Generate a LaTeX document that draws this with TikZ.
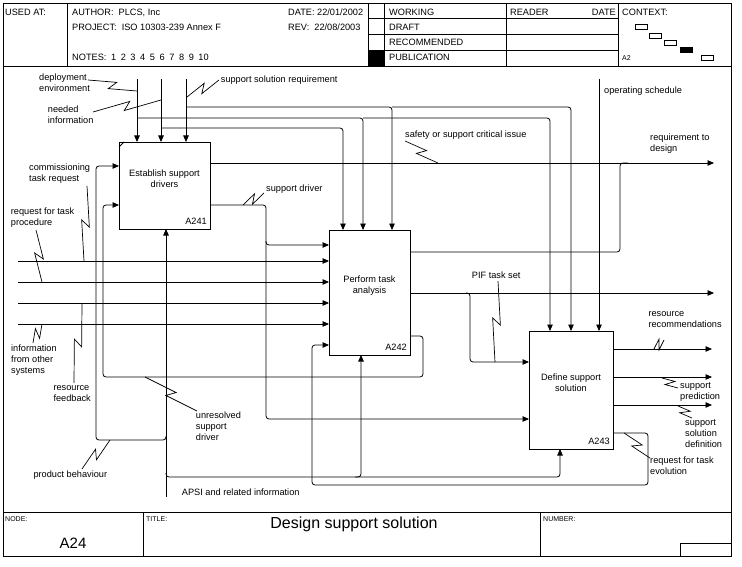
\documentclass[tikz,border=0pt]{standalone}
\usepackage{fontspec}
\setmainfont{Liberation Sans}
\usepackage{tikz}
\usetikzlibrary{arrows.meta,calc,positioning}
\newcommand{\lblfont}{\fontsize{9.2}{11}\selectfont}
\newcommand{\tinyfont}{\fontsize{7}{8}\selectfont}
\tikzset{
    thin_line/.style={line width=0.8pt},
    func_box/.style={draw, line width=0.8pt, inner sep=0pt, outer sep=0pt},
    box_text/.style={font=\lblfont, align=center, inner sep=0pt},
    box_num/.style={font=\lblfont, anchor=base east, inner sep=0pt},
    head_text/.style={font=\lblfont, anchor=base west, inner sep=0pt},
    arrow_label/.style={font=\lblfont, align=left, anchor=north west, inner sep=0pt, yshift=7.7pt, execute at begin node=\strut},
    flow/.style={line width=0.8pt, rounded corners=3pt, -{Triangle[length=6.5pt,width=5.5pt]}},
    plain_flow/.style={line width=0.8pt, rounded corners=3pt},
    leader/.style={line width=0.7pt}
}
\newcommand{\squig}[2]{%
  \path #1 -- #2 coordinate[pos=.5] (sqm);
  \draw[leader] #1 -- ($(sqm)!3.5pt!#2!4pt!90:#2$) -- ($(sqm)!-3.5pt!#2!4pt!-90:#2$) -- #2;}

\begin{document}
\begin{tikzpicture}[x=1pt, y=-1pt]
  \useasboundingbox (0,0) rectangle (742,567);

  % Form frame, header and footer
  \draw[thin_line] (3,3) rectangle (731,556);
  \draw[thin_line] (3,66) -- (731,66);
  \draw[thin_line] (3,512) -- (731,512);
  \foreach \x in {67,368,384,506,618}
    \draw[thin_line] (\x,3) -- (\x,66);
  \foreach \y in {18,34,50}
    \draw[thin_line] (368,\y) -- (618,\y);
  \fill (368,50) rectangle (384,66);
  \draw[thin_line] (143,512) -- (143,556);
  \draw[thin_line] (540,512) -- (540,556);
  \draw[thin_line] (680,556) |- (731,543);

  \node[head_text] (used_at) at (5,16) {USED AT:};
  \node[head_text] (author) at (72,16) {AUTHOR:\ \ PLCS, Inc};
  \node[head_text] (project) at (72,31) {PROJECT:\ \ ISO 10303-239 Annex F};
  \node[head_text] (notes) at (72,61) {NOTES:\enspace 1\enspace 2\enspace 3\enspace 4\enspace 5\enspace 6\enspace 7\enspace 8\enspace 9\enspace 10};
  \node[head_text] (date) at (288,16) {DATE: 22/01/2002};
  \node[head_text] (rev) at (288,31) {REV:\ \ 22/08/2003};
  \node[head_text] (st_working) at (389,16) {WORKING};
  \node[head_text] (st_draft) at (389,31) {DRAFT};
  \node[head_text] (st_recommended) at (389,46) {RECOMMENDED};
  \node[head_text] (st_publication) at (389,61) {PUBLICATION};
  \node[head_text] (reader) at (510,16) {READER};
  \node[head_text, anchor=base east] (reader_date) at (616,16) {DATE};
  \node[head_text] (context) at (622,16) {CONTEXT:};
  \node[head_text, font=\tinyfont] (context_node) at (622,61) {A2};
  \foreach \cx/\cy in {635/24, 649/33, 664/40.5, 701/55}
    \draw[line width=0.6pt] (\cx,\cy) rectangle ++(12.5,5);
  \fill (679.5,47.5) rectangle ++(13,5.5);

  \node[head_text, font=\tinyfont] (f_node) at (5,521) {NODE:};
  \node[head_text, font=\tinyfont] (f_title) at (146,521) {TITLE:};
  \node[head_text, font=\tinyfont] (f_number) at (543,521) {NUMBER:};
  \node[font=\fontsize{16}{18}\selectfont, anchor=base, inner sep=0pt] (f_titletext) at (354,528) {Design support solution};
  \node[font=\fontsize{15}{18}\selectfont, anchor=base, inner sep=0pt] (f_nodetext) at (73,548) {A24};

  % Activity boxes
  \node[func_box, minimum width=91pt, minimum height=87pt] (a241) at (164.5,185.5) {};
  \node[func_box, minimum width=81pt, minimum height=125pt] (a242) at (369.5,292.5) {};
  \node[func_box, minimum width=84pt, minimum height=118pt] (a243) at (571,390) {};
  \node[box_text] (t241) at ([yshift=7pt]a241.center) {Establish support\\drivers};
  \node[box_text] (t242) at ([yshift=7pt]a242.center) {Perform task\\analysis};
  \node[box_text] (t243) at ([yshift=7pt]a243.center) {Define support\\solution};
  \node[box_num] (n241) at ([xshift=-3pt,yshift=4.7pt]a241.south east) {A241};
  \node[box_num] (n242) at ([xshift=-3pt,yshift=4.7pt]a242.south east) {A242};
  \node[box_num] (n243) at ([xshift=-3pt,yshift=4.7pt]a243.south east) {A243};
  \draw[thin_line] ([yshift=-5pt]a241.north west) -- ([xshift=5pt]a241.north west);

  % Controls from the top edge
  \coordinate (c_deploy) at (137,79);
  \coordinate (c_needed) at (161,79);
  \coordinate (c_ssreq) at (186,79);
  \coordinate (c_opsched) at (599,79);
  \draw[flow] (c_deploy) -- (c_deploy |- a241.north);
  \draw[flow] (c_needed) -- (c_needed |- a241.north);
  \draw[flow] (c_ssreq) -- (c_ssreq |- a241.north);
  \draw[flow] (c_opsched) -- (c_opsched |- a243.north);
  \draw[flow] (c_deploy |- 0,118) -| (363,0 |- a242.north);
  \draw[flow] (363,118) -| (550,0 |- a243.north);
  \draw[flow] (c_needed |- 0,128) -| (343,0 |- a242.north);
  \draw[flow] (c_ssreq |- 0,107) -| (392,0 |- a242.north);
  \draw[flow] (392,107) -| (571,0 |- a243.north);

  % Inputs from the left edge
  \foreach \y/\name in {261/i_one, 282/i_two, 303/i_three, 324/i_four} {
    \coordinate (\name) at (18,\y);
    \draw[flow] (\name) -- (a242.west |- \name);
  }

  % Outputs of A241
  \coordinate (o_reqdesign) at (714,163);
  \draw[flow] (a241.east |- 0,163) -- (o_reqdesign);
  \draw[flow] (a241.east |- 0,205) -| (266,419) -- (a243.west |- 0,419);
  \draw[flow] (266,241) |- (a242.west |- 0,245);

  % Outputs of A242
  \draw[plain_flow] (a242.east |- 0,252) -| (620,163) -- (628,163);
  \coordinate (o_pif) at (714,293);
  \draw[flow] (a242.east |- o_pif) -- (o_pif);
  \draw[flow] (466,293) -| (470,362) -- (a243.west |- 0,362);
  \draw[flow] (a242.east |- 0,336) -| (423,377) -| (103,205) -- (a241.west |- 0,205);

  % Outputs of A243
  \foreach \y/\name in {349/o_resrec, 377/o_suppred, 405/o_ssdef} {
    \coordinate (\name) at (712,\y);
    \draw[flow] (a243.east |- \name) -- (\name);
  }
  \draw[flow] (a243.east |- 0,433) -| (648,485) -| (312,345) -- (a242.west |- 0,345);

  % Mechanism from the bottom
  \coordinate (m_apsi) at (166,497);
  \draw[flow] (m_apsi) -- (m_apsi |- a241.south);
  \draw[flow] (m_apsi |- 0,473) |- (361,477) -- (361,0 |- a242.south);
  \draw[flow] (355,477) -| (560,0 |- a243.south);
  \draw[flow] (m_apsi |- 0,436) |- (96,440) |- (a241.west |- 0,166);

  % Arrow labels
  \node[arrow_label] (l_deploy) at (39,81.7) {deployment\\environment};
  \node[arrow_label] (l_needed) at (47.7,113) {needed\\information};
  \node[arrow_label] (l_ssreq) at (220.7,82.7) {support solution requirement};
  \node[arrow_label] (l_opsched) at (604,93.3) {operating schedule};
  \node[arrow_label] (l_safety) at (405,137.7) {safety or support critical issue};
  \node[arrow_label] (l_reqdesign) at (650,141.7) {requirement to\\design};
  \node[arrow_label] (l_commission) at (29,171) {commissioning\\task request};
  \node[arrow_label] (l_request) at (10.7,215.7) {request for task\\procedure};
  \node[arrow_label] (l_driver) at (266,191.7) {support driver};
  \node[arrow_label] (l_pif) at (471.7,278.3) {PIF task set};
  \node[arrow_label] (l_resrec) at (648.3,319.3) {resource\\recommendations};
  \node[arrow_label] (l_info) at (11,352.7) {information\\from other\\systems};
  \node[arrow_label] (l_suppred) at (680,390) {support\\prediction};
  \node[arrow_label] (l_feedback) at (53.3,392.7) {resource\\feedback};
  \node[arrow_label] (l_unresolved) at (195.7,419.3) {unresolved\\support\\driver};
  \node[arrow_label] (l_ssdef) at (685,426.7) {support\\solution\\definition};
  \node[arrow_label] (l_evolution) at (650,464.3) {request for task\\evolution};
  \node[arrow_label] (l_behaviour) at (33.3,477.7) {product behaviour};
  \node[arrow_label] (l_apsi) at (181.7,495) {APSI and related information};

  % Squiggles tying labels to their arrows
  \foreach \ax/\ay/\bx/\by in {88/80/137/91, 93/112/161/100, 219/80/187/97,
      405/141/438/163, 264/193/243/205, 87/186/84/261, 36/230/42/282,
      33/343/42/324, 74/383/82/303, 197/411/145/377, 82/469/110/440,
      498/281/495/362, 664/340/654/349, 678/388/662/378, 692/418/678/406,
      650/458/624/433}
    {\squig{(\ax,\ay)}{(\bx,\by)}}

\end{tikzpicture}
\end{document}
